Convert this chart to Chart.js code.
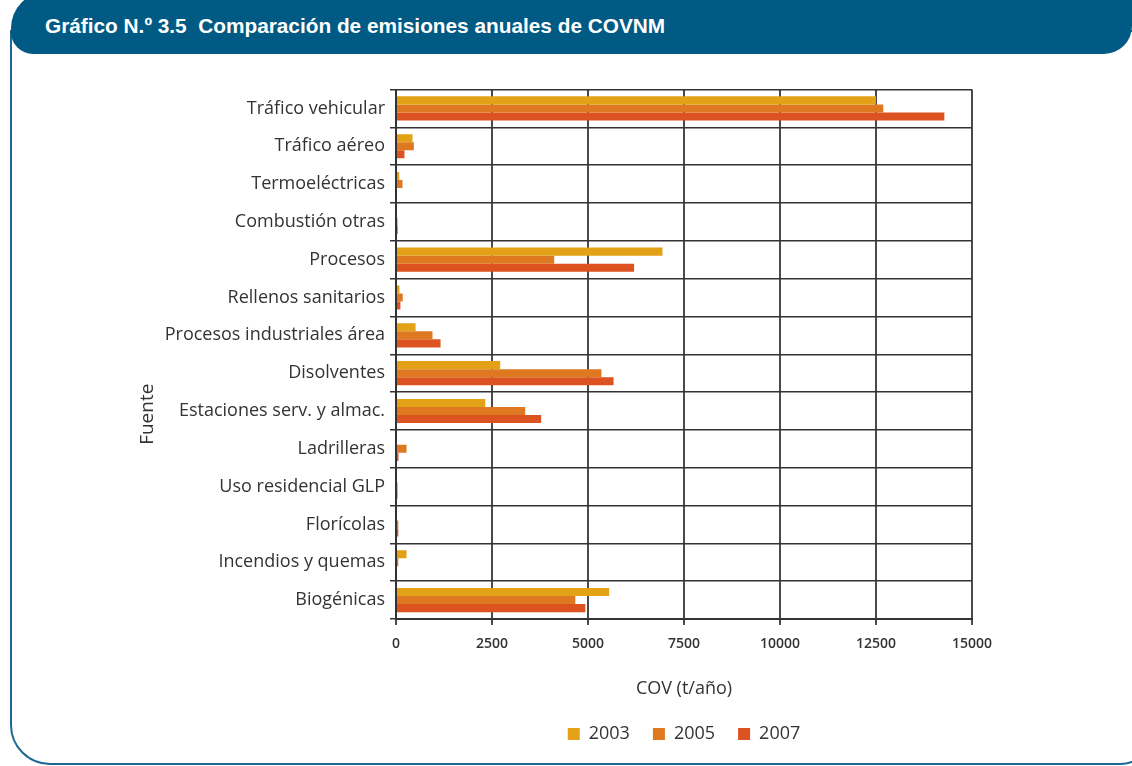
<!DOCTYPE html>
<html>
<head>
<meta charset="utf-8">
<script src="https://cdn.jsdelivr.net/npm/chart.js@4.4.1/dist/chart.umd.min.js"></script>
<style>
  html, body { margin:0; padding:0; background:#fff; }
  body { width:1132px; height:766px; position:relative; overflow:hidden; }
  #frame { position:absolute; left:10px; top:30px; width:1140px; height:731px;
           border:2.5px solid #1b6893; border-radius:0 0 34px 40px; box-sizing:content-box; }
  #header { position:absolute; left:11px; top:-8px; width:1121px; height:62px; background:#005a84;
            border-radius:36px 0 28px 22px; }
  #title { position:absolute; left:45px; top:14px; color:#fff; font-family:"Liberation Sans Narrow","Liberation Sans",Arial,sans-serif;
           font-weight:bold; font-size:20.8px; white-space:nowrap; }
  #wrap { position:absolute; left:0; top:0; width:1132px; height:766px; }
</style>
</head>
<body>
<div id="frame"></div>
<div id="header"></div>
<div id="title">Gráfico N.º 3.5&nbsp; Comparación de emisiones anuales de COVNM</div>
<div id="wrap"><canvas id="c" width="1132" height="766"></canvas></div>
<script>
const categories = ['Tráfico vehicular','Tráfico aéreo','Termoeléctricas','Combustión otras','Procesos','Rellenos sanitarios','Procesos industriales área','Disolventes','Estaciones serv. y almac.','Ladrilleras','Uso residencial GLP','Florícolas','Incendios y quemas','Biogénicas'];
const seriesNames = ['2003','2005','2007'];
const v2003 = [12500, 430, 85, 25, 6940, 90, 510, 2715, 2325, 0, 0, 0, 275, 5550];
const v2005 = [12690, 465, 170, 40, 4120, 175, 950, 5350, 3365, 275, 40, 60, 60, 4670];
const v2007 = [14280, 220, 0, 45, 6200, 115, 1160, 5665, 3780, 65, 40, 60, 0, 4930];
const xTicks = [0, 2500, 5000, 7500, 10000, 12500, 15000];
const xTitle = 'COV (t/año)';
const yTitle = 'Fuente';

const colors = ['#e3a117', '#de7821', '#dc5220'];
const FONT = '"Open Sans","Noto Sans",sans-serif';

const yTitlePlugin = {
  id: 'yTitle',
  afterDraw(chart) {
    const ctx = chart.ctx;
    const y = (chart.chartArea.top + chart.legend.bottom - 14) / 2;
    const x = chart.scales.y.left + 20;
    ctx.save();
    ctx.translate(x, y);
    ctx.rotate(-Math.PI / 2);
    ctx.fillStyle = '#333';
    ctx.font = '19px ' + FONT;
    ctx.textAlign = 'center';
    ctx.textBaseline = 'middle';
    ctx.fillText(yTitle, 0, 0);
    ctx.restore();
  }
};

new Chart(document.getElementById('c'), {
  type: 'bar',
  data: {
    labels: categories,
    datasets: [v2003, v2005, v2007].map((d, i) => ({
      label: seriesNames[i], data: d, backgroundColor: colors[i], borderWidth: 0,
      categoryPercentage: 0.64, barPercentage: 1.0
    }))
  },
  plugins: [yTitlePlugin],
  options: {
    indexAxis: 'y',
    responsive: false,
    animation: false,
    layout: { padding: { top: 89.5, right: 160, left: 128, bottom: 13 } },
    plugins: {
      tooltip: { enabled: false },
      legend: {
        position: 'bottom', fullSize: false,
        labels: { boxWidth: 12, boxHeight: 12, padding: 23, color: '#333', font: { family: FONT, size: 18 } }
      }
    },
    scales: {
      x: {
        type: 'linear', min: 0, max: 15000,
        afterBuildTicks: s => { s.ticks = xTicks.map(v => ({ value: v })); },
        afterFit: s => { s.height = 83; },
        grid: { color: '#4a4a4a', lineWidth: 2, tickLength: 6, drawTicks: true },
        border: { display: true, color: '#333', width: 2 },
        ticks: { color: '#333', font: { family: FONT, size: 14, weight: '600' }, padding: 10.5, maxRotation: 0,
                 callback: v => String(v) },
        title: { display: true, text: xTitle, color: '#333', font: { family: FONT, size: 18 }, padding: { top: 0, bottom: 2.5 } }
      },
      y: {
        afterFit: s => { s.width = 268; },
        grid: { color: '#333', lineWidth: 1.5, tickLength: 6, offset: true },
        border: { display: true, color: '#333', width: 2 },
        ticks: { color: '#333', font: { family: FONT, size: 18 }, padding: 5, autoSkip: false },
        title: { display: false }
      }
    }
  }
});
</script>
</body>
</html>
